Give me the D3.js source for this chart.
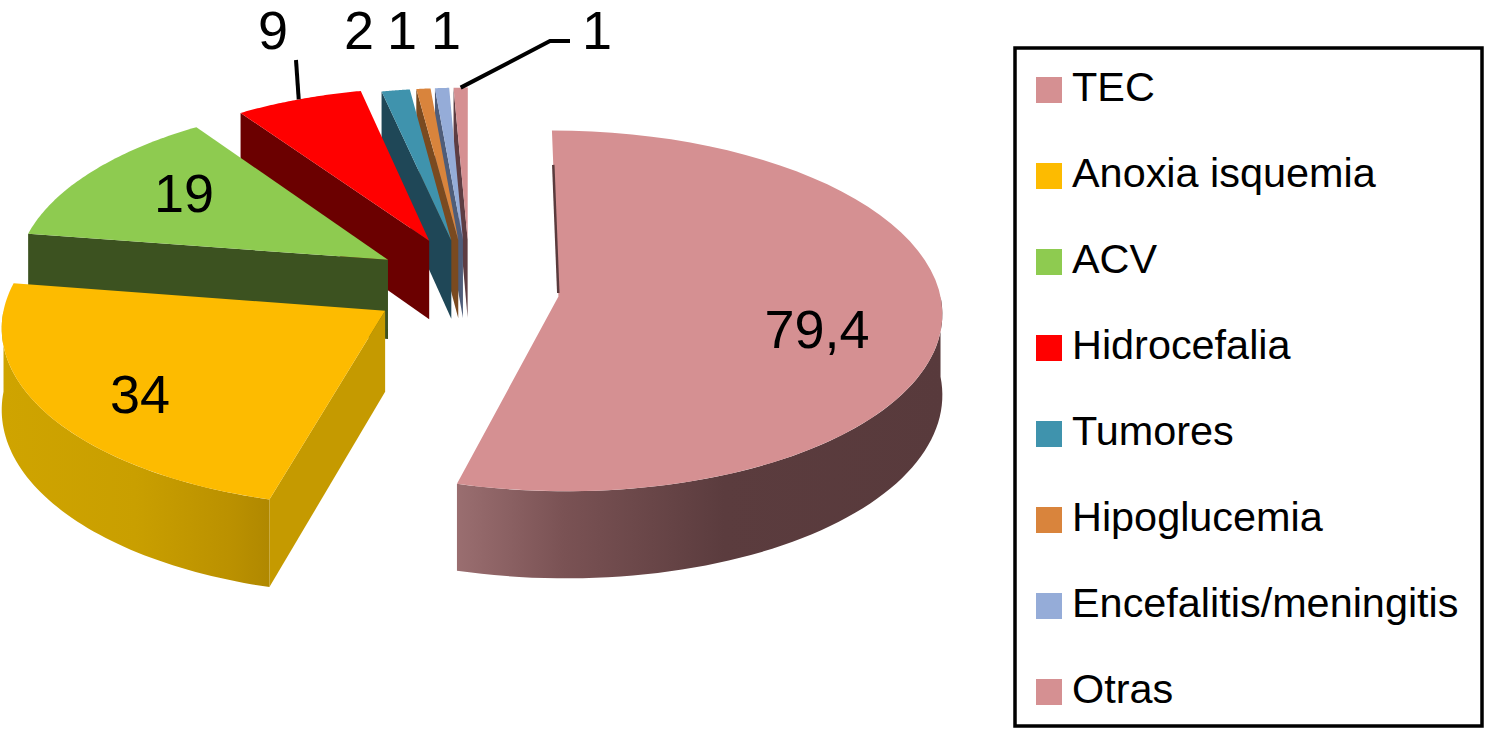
<!DOCTYPE html>
<html><head><meta charset="utf-8">
<script src="https://cdn.jsdelivr.net/npm/d3@7"></script>
<style>html,body{margin:0;background:#fff}svg{display:block}text{font-family:"Liberation Sans",Arial,sans-serif;fill:#000}</style>
</head><body><svg id="c" width="1485" height="729"></svg>
<script>
const categories = ["TEC","Anoxia isquemia","ACV","Hidrocefalia","Tumores","Hipoglucemia","Encefalitis/meningitis","Otras"];
const values = [79.4,34,19,9,2,1,1,1];
const topColors = ["#d59092","#fdbb00","#8ecb50","#ff0000","#3f93ad","#d9843c","#95acd8","#d59092"];
const wallColors = ["#5a3b3d","#c59a00","#3c5220","#6b0000","#1f4757","#7a4a20","#4f5d7a","#5e3d42"];
const explode = [89,100,98,105,112,112,112,112];
const radiusScale = [.99,.98,.97,.95,.95,.95,.95,.95];
const lift = [0,-6,-7,-6,0,0,0,0];
const labelPos = [[817,329],[140,394],[184,193],[273,30],[359,30],[402,30],[446,30],[597,30]];
const drawOrder = [7,6,5,4,3,2,1,0];

const R=385, CX=470, CY=291, TILT=.468, PERSP=.08, DEPTH=80;
const svg=d3.select("#c"), defs=svg.append("defs");
const slices=d3.pie().sort(null).value(d=>d)(values);
const color=d3.scaleOrdinal(d3.range(8),topColors), wall=d3.scaleOrdinal(d3.range(8),wallColors);
const line=d3.line();

function project(i,a,r,z=0){
  const s=slices[i], m=(s.startAngle+s.endAngle)/2, e=explode[i], rr=r*radiusScale[i];
  const u=e*Math.sin(m)+rr*Math.sin(a), v=-e*Math.cos(m)-rr*Math.cos(a);
  const k=1/(1-PERSP*v/R);
  return [CX+u*k, CY+lift[i]+TILT*v*k+z*DEPTH*k];
}
function arcAngles(a0,a1){return d3.range(0,61).map(t=>a0+(a1-a0)*t/60);}

// gradients for the rounded outer walls
function grad(id,stops){
  const g=defs.append("linearGradient").attr("id",id).attr("x1",0).attr("x2",1).attr("y1",0).attr("y2",0);
  stops.forEach(([o,c])=>g.append("stop").attr("offset",o).attr("stop-color",c));
}
grad("g0",[[0,"#9a6e70"],[.22,"#7a5254"],[.55,"#5b3c3e"],[1,"#583a3c"]]);
grad("g1",[[0,"#cfa400"],[.5,"#c99f00"],[.85,"#bb9100"],[1,"#b08800"]]);

const g=svg.append("g");
drawOrder.forEach(i=>{
  const s=slices[i], a0=s.startAngle, a1=s.endAngle;
  const apex=project(i,0,0), edge=project(i,a0,R);
  // start-side radial wall
  if(i>0) g.append("path").attr("fill",wall(i)).attr("d",line([apex,edge,project(i,a0,R,1),project(i,0,0,1)])+"Z");
  // outer wall, only the part facing the viewer
  const w0=Math.max(a0,Math.PI/2), w1=Math.min(a1,Math.PI*1.5);
  if(w1>w0){
    const as=arcAngles(w0,w1);
    g.append("path").attr("fill",i<2?`url(#g${i})`:wall(i))
      .attr("d",line(as.map(a=>project(i,a,R)).concat(as.slice().reverse().map(a=>project(i,a,R,1))))+"Z");
  }
  // top face
  g.append("path").attr("fill",color(i)).attr("d",line([apex].concat(arcAngles(a0,a1).map(a=>project(i,a,R))))+"Z");
  if(i===0){
    g.append("path").attr("fill","none").attr("stroke",wall(0)).attr("stroke-width",2.5)
      .attr("d",line([project(0,a0,R*.02),project(0,a0,R*.78)]));
  }
});

// data labels
const fmt=v=>String(v).replace(".",",");
svg.append("g").selectAll("text").data(values).join("text")
  .attr("x",(d,i)=>labelPos[i][0]).attr("y",(d,i)=>labelPos[i][1]+19)
  .attr("text-anchor","middle").attr("font-size",54).text(fmt);

// leader lines, anchored on the arcs of their slices
const mid=i=>(slices[i].startAngle+slices[i].endAngle)/2;
const leader=d3.line();
svg.append("path").attr("fill","none").attr("stroke","#000").attr("stroke-width",4)
  .attr("d",leader([[296,60],project(3,mid(3),R)]));
svg.append("path").attr("fill","none").attr("stroke","#000").attr("stroke-width",4)
  .attr("d",leader([project(7,mid(7),R),[550,41],[570,41]]));

// legend
svg.append("rect").attr("x",1015).attr("y",48).attr("width",467).attr("height",678)
  .attr("fill","#fff").attr("stroke","#000").attr("stroke-width",3.5);
const row=d3.scalePoint().domain(categories).range([90,692]);
const lg=svg.append("g").selectAll("g").data(categories).join("g")
  .attr("transform",d=>`translate(0,${row(d)})`);
lg.append("rect").attr("x",1036).attr("y",-13).attr("width",26).attr("height",26).attr("fill",(d,i)=>color(i));
lg.append("text").attr("x",1072).attr("y",11).attr("font-size",41.4).text(d=>d);
</script></body></html>
